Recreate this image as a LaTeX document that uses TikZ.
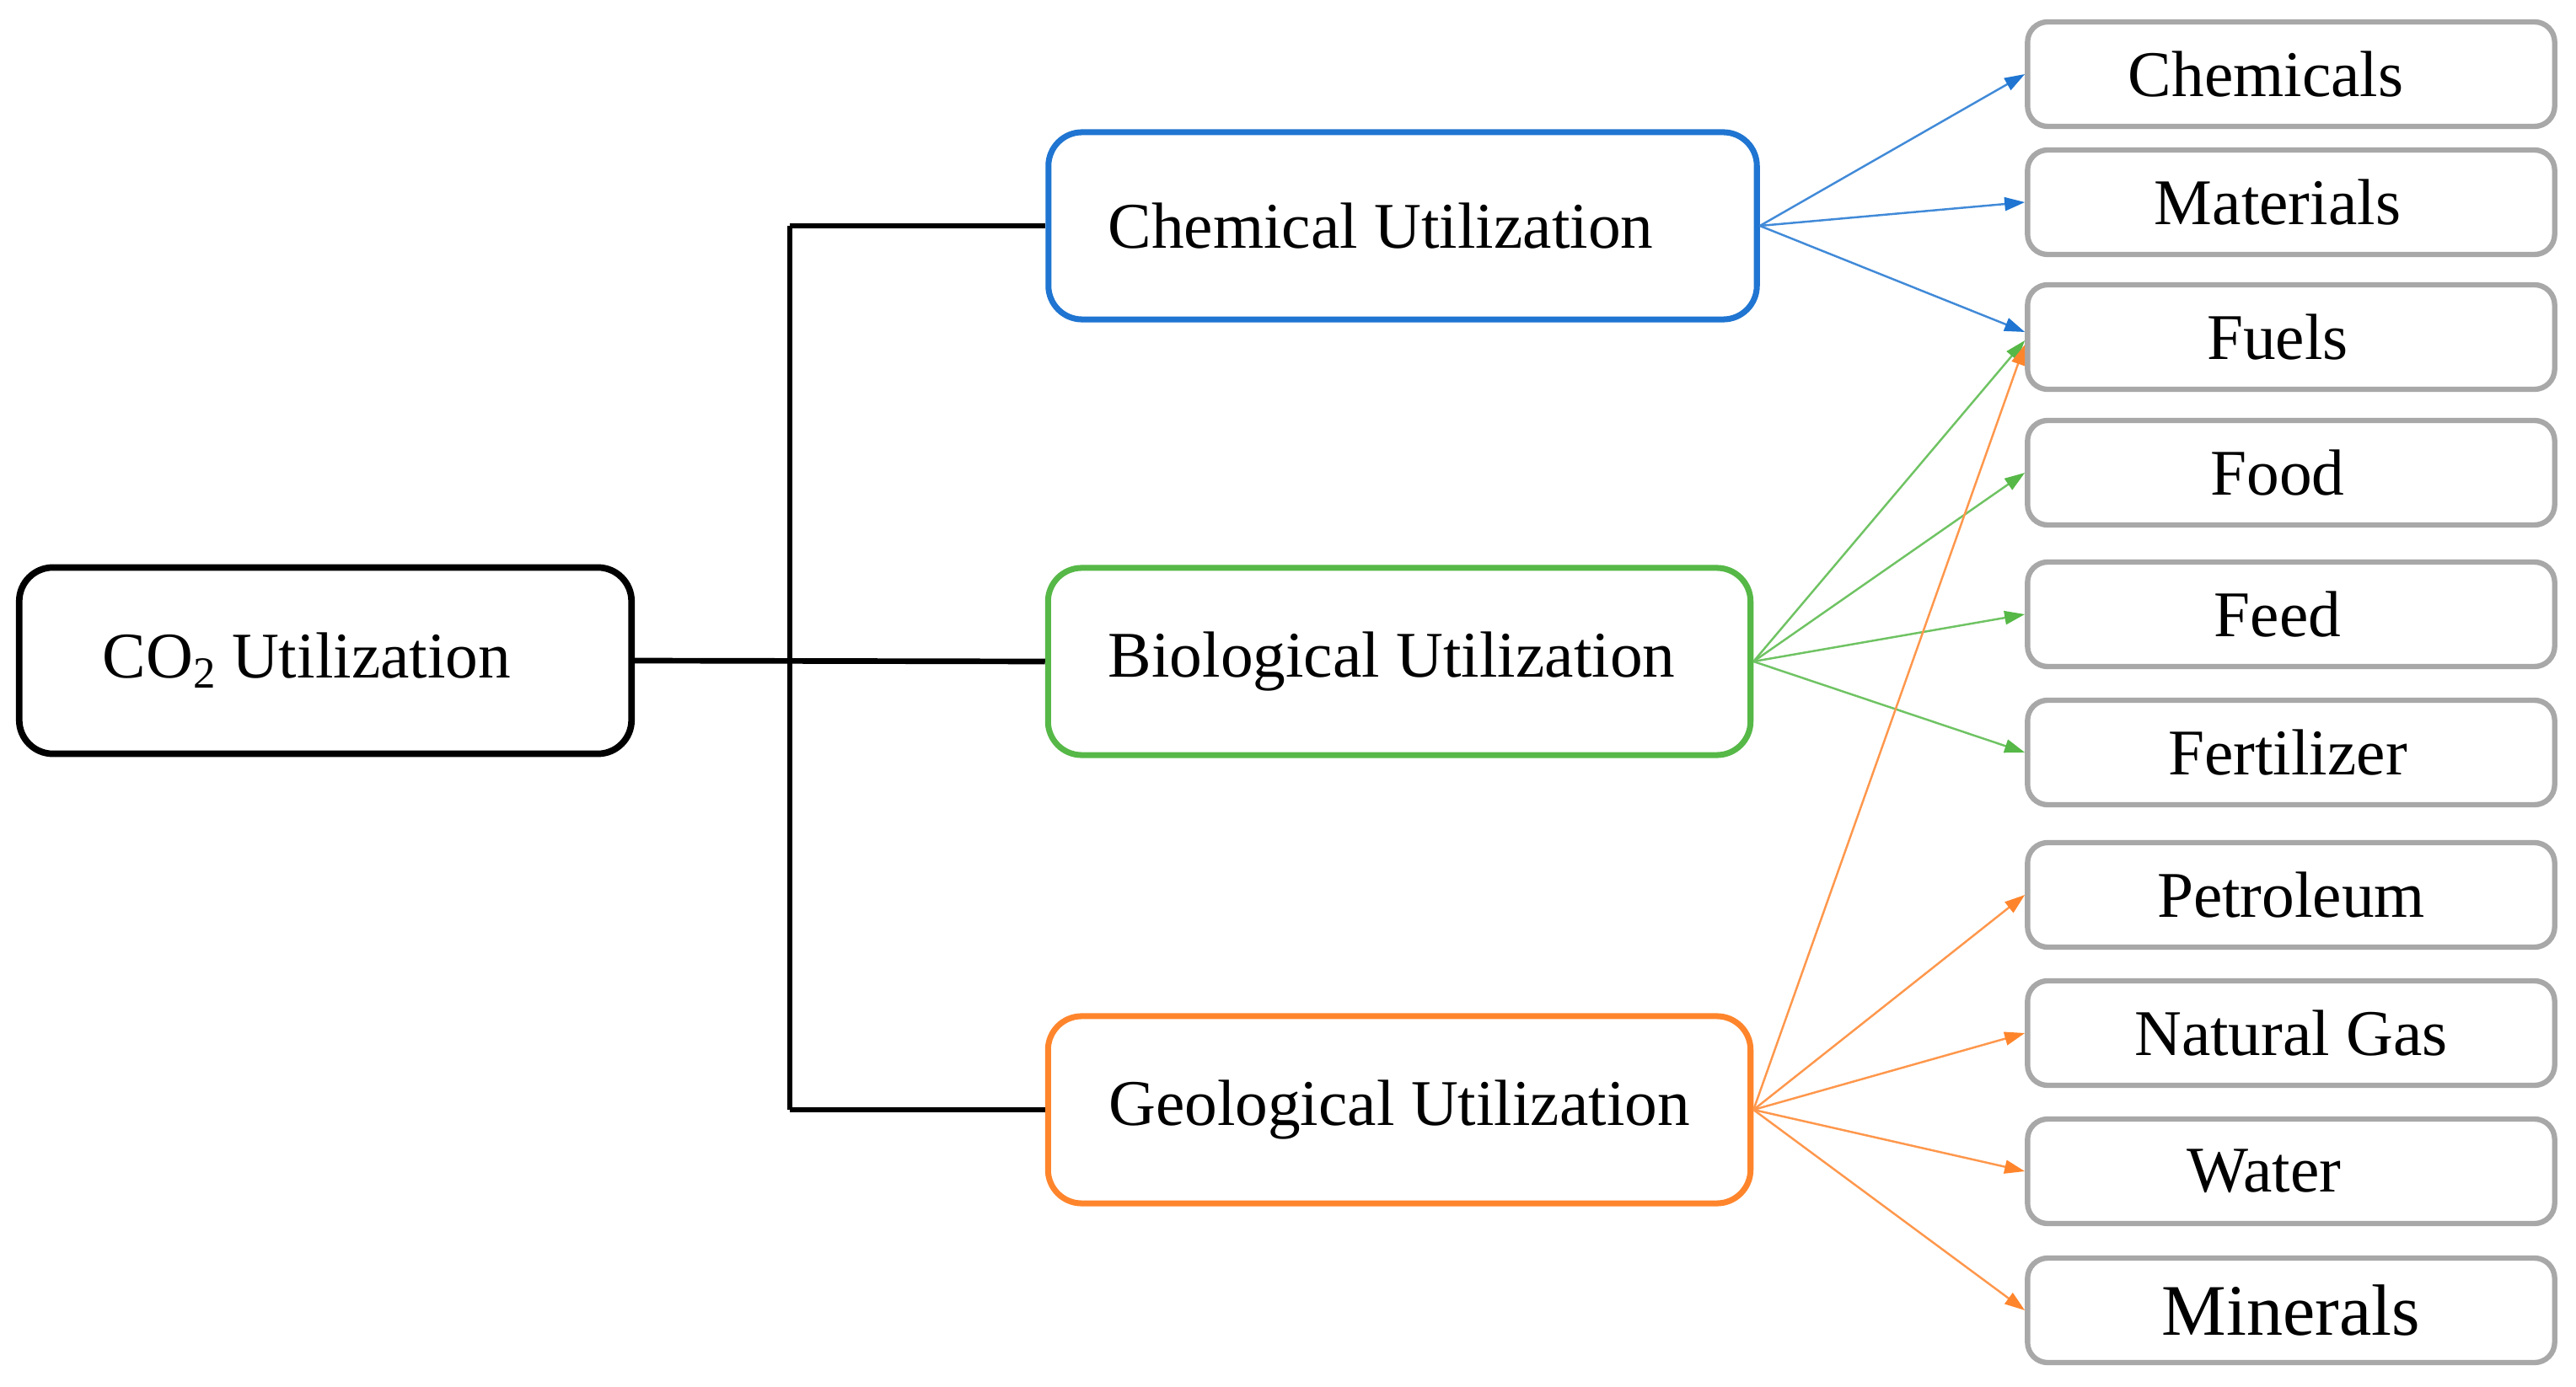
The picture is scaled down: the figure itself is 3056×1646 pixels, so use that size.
\documentclass[tikz,border=0pt]{standalone}
\usepackage{fontspec}
\setmainfont{Liberation Serif}
\usetikzlibrary{arrows.meta}
\definecolor{cblue}{RGB}{31,117,209}
\definecolor{cgreen}{RGB}{86,184,71}
\definecolor{corange}{RGB}{255,133,44}
\definecolor{cgray}{RGB}{168,168,168}
\begin{document}
\begin{tikzpicture}[x=0.01cm,y=-0.01cm,
  txt/.style={font=\fontsize{22}{26}\selectfont, text=black, inner sep=0pt},
  rootbox/.style={txt, draw=black, line width=2.2pt, rounded corners=0.4cm, minimum width=7.26cm, minimum height=2.21cm},
  midbox/.style={txt, draw=#1, line width=2pt, rounded corners=0.4cm, minimum width=8.33cm, minimum height=2.22cm},
  outbox/.style={txt, draw=cgray, line width=1.8pt, rounded corners=0.24cm, minimum width=6.25cm, minimum height=1.24cm},
  trunk/.style={draw=black, line width=1.9pt},
  fan/.style={draw=#1!85, line width=0.7pt, -{Triangle[length=0.24cm,width=0.16cm,color=#1]}}]
\useasboundingbox (0,0) rectangle (3056,1646);

\node[rootbox] (co2) at (386,784) {CO\raisebox{-0.12cm}{\fontsize{15}{15}\selectfont 2} Utilization\kern0.44cm};
\node[midbox=cblue, minimum width=8.40cm] (chem) at (1664,268) {Chemical Utilization\kern0.52cm};
\node[midbox=cgreen] (bio) at (1660,785) {Biological Utilization\kern0.18cm};
\node[midbox=corange] (geo) at (1660,1317) {Geological Utilization};

\node[outbox] (chemicals) at (2718,88) {Chemicals\kern0.6cm};
\node[outbox] (materials) at (2718,240) {Materials\kern0.32cm};
\node[outbox] (fuels) at (2718,400) {Fuels\kern0.32cm};
\node[outbox] (food) at (2718,561) {Food\kern0.32cm};
\node[outbox] (feed) at (2718,729) {Feed\kern0.32cm};
\node[outbox] (fertilizer) at (2718,893) {Fertilizer\kern0.08cm};
\node[outbox] (petroleum) at (2718,1062) {Petroleum};
\node[outbox] (natgas) at (2718,1226) {Natural Gas};
\node[outbox] (water) at (2718,1390) {Water\kern0.64cm};
\node[outbox, font=\fontsize{24.5}{28}\selectfont] (minerals) at (2718,1555) {Minerals};

\coordinate (jt) at (937,268);
\coordinate (jb) at (937,1317);
\draw[trunk] (co2.east) -- (bio.west);
\draw[trunk] (jt) -- (chem.west);
\draw[trunk] (jb) -- (geo.west);
\draw[trunk] (jt) -- (jb);

\draw[fan=cblue] (chem.east) -- (chemicals.west);
\draw[fan=cblue] (chem.east) -- (materials.west);
\draw[fan=cblue] (chem.east) -- ([yshift=0.06cm]fuels.west);

\draw[fan=cgreen] (bio.east) -- ([yshift=-0.04cm]fuels.west);
\draw[fan=cgreen] (bio.east) -- (food.west);
\draw[fan=cgreen] (bio.east) -- (feed.west);
\draw[fan=cgreen] (bio.east) -- (fertilizer.west);

\draw[fan=corange] (geo.east) -- ([yshift=-0.09cm]fuels.west);
\draw[fan=corange] (geo.east) -- (petroleum.west);
\draw[fan=corange] (geo.east) -- (natgas.west);
\draw[fan=corange] (geo.east) -- (water.west);
\draw[fan=corange] (geo.east) -- (minerals.west);
\end{tikzpicture}
\end{document}
